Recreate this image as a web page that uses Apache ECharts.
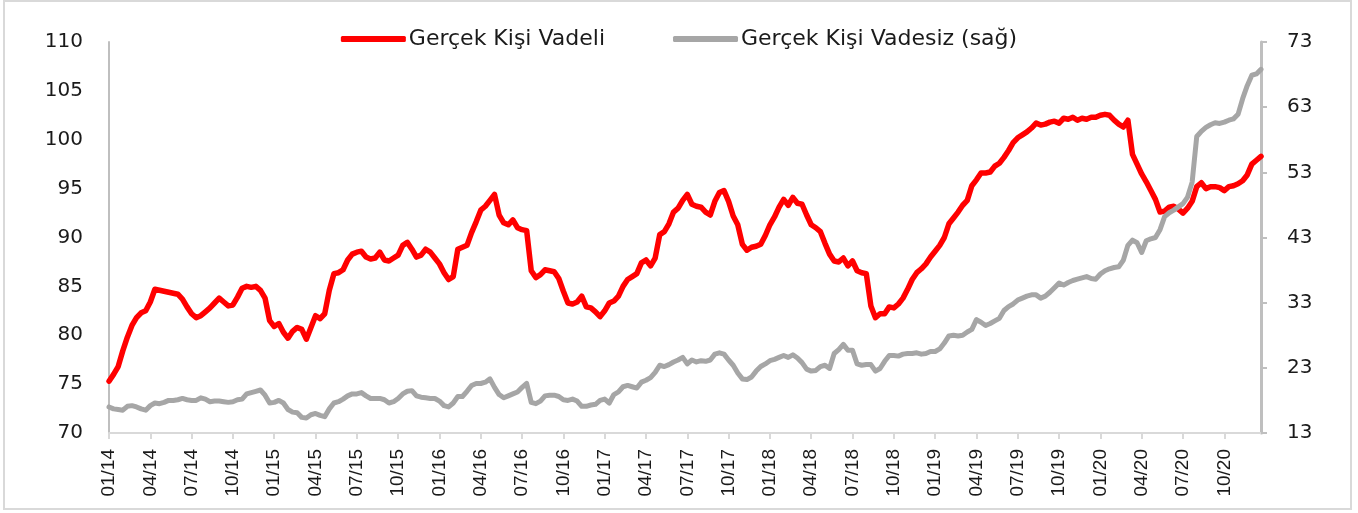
<!DOCTYPE html>
<html>
<head>
<meta charset="utf-8">
<script src="https://cdn.jsdelivr.net/npm/echarts@6/dist/echarts.min.js"></script>
<style>
  html, body { margin: 0; padding: 0; background: #fff; }
  #chart { width: 1358px; height: 513px; }
</style>
</head>
<body>
<div id="chart"></div>
<script>
// 3 okuma / ay, 01/2014 - 12/2020
var years = [14, 15, 16, 17, 18, 19, 20]
var pointsPerMonth = 3

// Gerçek Kişi Vadeli (sol eksen)
var vadeli2014 = [75.3, 76.0, 76.8, 78.4, 79.8, 81.0, 81.8, 82.3, 82.5, 83.4, 84.7, 84.6, 84.5, 84.4, 84.3, 84.2, 83.7, 82.9, 82.2, 81.8, 82.0, 82.4, 82.8, 83.3, 83.8, 83.4, 83.0, 83.1, 83.9, 84.8, 85.0, 84.9, 85.0, 84.6, 83.8, 81.5]
var vadeli2015 = [80.9, 81.2, 80.3, 79.7, 80.4, 80.8, 80.6, 79.6, 80.8, 82.0, 81.7, 82.2, 84.6, 86.3, 86.4, 86.7, 87.7, 88.3, 88.5, 88.6, 88.0, 87.8, 87.9, 88.5, 87.7, 87.6, 87.9, 88.2, 89.2, 89.5, 88.8, 88.0, 88.2, 88.8, 88.5, 87.9]
var vadeli2016 = [87.3, 86.4, 85.7, 86.0, 88.8, 89.0, 89.2, 90.5, 91.6, 92.8, 93.2, 93.8, 94.4, 92.3, 91.5, 91.3, 91.8, 91.0, 90.8, 90.7, 86.6, 85.9, 86.2, 86.7, 86.6, 86.5, 85.8, 84.5, 83.3, 83.2, 83.4, 84.0, 82.9, 82.8, 82.4, 81.9]
var vadeli2017 = [82.5, 83.3, 83.5, 84.0, 85.0, 85.7, 86.0, 86.3, 87.4, 87.7, 87.1, 87.9, 90.3, 90.6, 91.4, 92.6, 93.0, 93.8, 94.4, 93.4, 93.2, 93.1, 92.6, 92.3, 93.7, 94.6, 94.8, 93.7, 92.2, 91.3, 89.3, 88.7, 89.0, 89.1, 89.3, 90.2]
var vadeli2018 = [91.3, 92.1, 93.1, 93.9, 93.3, 94.1, 93.5, 93.4, 92.3, 91.3, 91.0, 90.6, 89.4, 88.3, 87.6, 87.5, 87.9, 87.1, 87.6, 86.6, 86.4, 86.3, 83.0, 81.8, 82.2, 82.2, 82.9, 82.8, 83.2, 83.8, 84.7, 85.7, 86.4, 86.8, 87.3, 88.0]
var vadeli2019 = [88.6, 89.2, 90.0, 91.4, 92.0, 92.6, 93.3, 93.8, 95.3, 95.9, 96.6, 96.6, 96.7, 97.3, 97.6, 98.2, 98.9, 99.7, 100.2, 100.5, 100.8, 101.2, 101.7, 101.5, 101.6, 101.8, 101.9, 101.7, 102.2, 102.1, 102.3, 102.0, 102.2, 102.1, 102.3, 102.3]
var vadeli2020 = [102.5, 102.6, 102.5, 102.0, 101.6, 101.3, 102.0, 98.5, 97.5, 96.5, 95.7, 94.8, 93.9, 92.6, 92.7, 93.1, 93.2, 92.9, 92.5, 93.0, 93.7, 95.2, 95.6, 95.0, 95.2, 95.2, 95.1, 94.8, 95.2, 95.3, 95.5, 95.8, 96.4, 97.5, 97.9, 98.3]

// Gerçek Kişi Vadesiz (sağ eksen)
var vadesiz2014 = [17.0, 16.7, 16.6, 16.5, 17.1, 17.2, 17.0, 16.7, 16.5, 17.2, 17.6, 17.5, 17.7, 18.0, 18.0, 18.1, 18.3, 18.1, 18.0, 18.0, 18.4, 18.2, 17.8, 17.9, 17.9, 17.8, 17.7, 17.8, 18.1, 18.2, 19.0, 19.2, 19.4, 19.6, 18.8, 17.6]
var vadesiz2015 = [17.7, 18.0, 17.6, 16.6, 16.2, 16.1, 15.4, 15.3, 15.8, 16.0, 15.7, 15.5, 16.7, 17.6, 17.8, 18.2, 18.7, 19.0, 19.0, 19.2, 18.7, 18.3, 18.3, 18.3, 18.1, 17.6, 17.8, 18.3, 19.0, 19.4, 19.5, 18.7, 18.5, 18.4, 18.3, 18.3]
var vadesiz2016 = [17.9, 17.2, 17.0, 17.6, 18.6, 18.6, 19.4, 20.3, 20.6, 20.6, 20.8, 21.3, 20.0, 18.9, 18.4, 18.7, 19.0, 19.3, 20.0, 20.6, 17.7, 17.5, 17.9, 18.7, 18.8, 18.8, 18.6, 18.1, 18.0, 18.2, 17.9, 17.1, 17.1, 17.3, 17.4, 18.0]
var vadesiz2017 = [18.2, 17.6, 18.9, 19.3, 20.1, 20.3, 20.1, 19.9, 20.8, 21.1, 21.5, 22.3, 23.4, 23.2, 23.5, 23.9, 24.2, 24.6, 23.6, 24.2, 23.9, 24.1, 24.0, 24.2, 25.1, 25.3, 25.1, 24.2, 23.4, 22.2, 21.3, 21.2, 21.6, 22.5, 23.2, 23.6]
var vadesiz2018 = [24.1, 24.3, 24.6, 24.9, 24.6, 25.0, 24.5, 23.8, 22.8, 22.5, 22.6, 23.2, 23.4, 22.9, 25.2, 25.8, 26.6, 25.7, 25.7, 23.6, 23.4, 23.5, 23.5, 22.5, 22.9, 24.0, 24.9, 24.9, 24.8, 25.1, 25.2, 25.2, 25.3, 25.1, 25.2, 25.5]
var vadesiz2019 = [25.5, 25.9, 26.8, 27.9, 28.0, 27.9, 28.0, 28.5, 28.9, 30.4, 30.0, 29.5, 29.8, 30.2, 30.6, 31.8, 32.4, 32.8, 33.4, 33.7, 34.0, 34.2, 34.2, 33.7, 34.0, 34.6, 35.3, 36.0, 35.7, 36.1, 36.4, 36.6, 36.8, 37.0, 36.7, 36.6]
var vadesiz2020 = [37.4, 37.9, 38.2, 38.4, 38.5, 39.5, 41.8, 42.6, 42.2, 40.7, 42.5, 42.8, 43.0, 44.2, 46.2, 46.8, 47.2, 47.7, 48.2, 49.2, 51.5, 58.5, 59.3, 59.9, 60.3, 60.6, 60.5, 60.7, 61.0, 61.2, 61.9, 64.3, 66.3, 67.9, 68.1, 68.8]

var vadeli = [].concat(vadeli2014, vadeli2015, vadeli2016, vadeli2017, vadeli2018, vadeli2019, vadeli2020)
var vadesiz = [].concat(vadesiz2014, vadesiz2015, vadesiz2016, vadesiz2017, vadesiz2018, vadesiz2019, vadesiz2020)

// kategori etiketleri: AA/YY
var categories = []
years.forEach(function (y) {
  for (var m = 1; m <= 12; m++) {
    var label = (m < 10 ? '0' + m : '' + m) + '/' + y
    for (var k = 0; k < pointsPerMonth; k++) categories.push(label)
  }
})

var chart = echarts.init(document.getElementById('chart'))

var axisLabelFont = {
  color: '#1a1a1a',
  fontFamily: 'DejaVu Sans',
  fontSize: 20
}

var option = {
  animation: false,
  backgroundColor: '#fff',
  graphic: [{
    type: 'rect',
    shape: { x: 4, y: 1, width: 1347, height: 508 },
    style: { fill: 'none', stroke: '#d9d9d9', lineWidth: 2 },
    silent: true
  }],
  legend: {
    left: 'center',
    top: 23,
    itemWidth: 65,
    itemHeight: 6,
    itemGap: 68,
    icon: 'roundRect',
    textStyle: {
      color: '#1a1a1a',
      fontFamily: 'DejaVu Sans',
      fontSize: 22,
      padding: [0, 0, 0, -2]
    },
    data: ['Gerçek Kişi Vadeli', 'Gerçek Kişi Vadesiz (sağ)']
  },
  grid: {
    left: 109,
    right: 97,
    top: 42,
    bottom: 80
  },
  xAxis: {
    type: 'category',
    boundaryGap: false,
    data: categories,
    axisLine: { lineStyle: { color: '#d9d9d9', width: 2 } },
    axisTick: { interval: 8, length: 6, lineStyle: { color: '#d9d9d9', width: 2 } },
    axisLabel: {
      interval: 8,
      rotate: 90,
      margin: 16,
      color: '#1a1a1a',
      fontFamily: 'Liberation Sans',
      fontSize: 19
    },
    splitLine: { show: false }
  },
  yAxis: [
    {
      type: 'value',
      min: 70,
      max: 110,
      interval: 5,
      position: 'left',
      axisLine: { show: true, lineStyle: { color: '#bfbfbf', width: 2 } },
      axisTick: { show: false },
      axisLabel: Object.assign({ margin: 26 }, axisLabelFont),
      splitLine: { show: false }
    },
    {
      type: 'value',
      min: 13,
      max: 73,
      interval: 10,
      position: 'right',
      axisLine: { show: true, lineStyle: { color: '#bfbfbf', width: 3 } },
      axisTick: { show: true, length: 6, lineStyle: { color: '#bfbfbf', width: 2 } },
      axisLabel: Object.assign({ margin: 26 }, axisLabelFont),
      splitLine: { show: false }
    }
  ],
  series: [
    {
      name: 'Gerçek Kişi Vadeli',
      type: 'line',
      yAxisIndex: 0,
      data: vadeli,
      showSymbol: false,
      color: '#ff0000',
      lineStyle: { color: '#ff0000', width: 5.5, join: 'round', cap: 'round' }
    },
    {
      name: 'Gerçek Kişi Vadesiz (sağ)',
      type: 'line',
      yAxisIndex: 1,
      data: vadesiz,
      showSymbol: false,
      color: '#a6a6a6',
      lineStyle: { color: '#a6a6a6', width: 5, join: 'round', cap: 'round' }
    }
  ]
}

chart.setOption(option)
</script>
</body>
</html>
